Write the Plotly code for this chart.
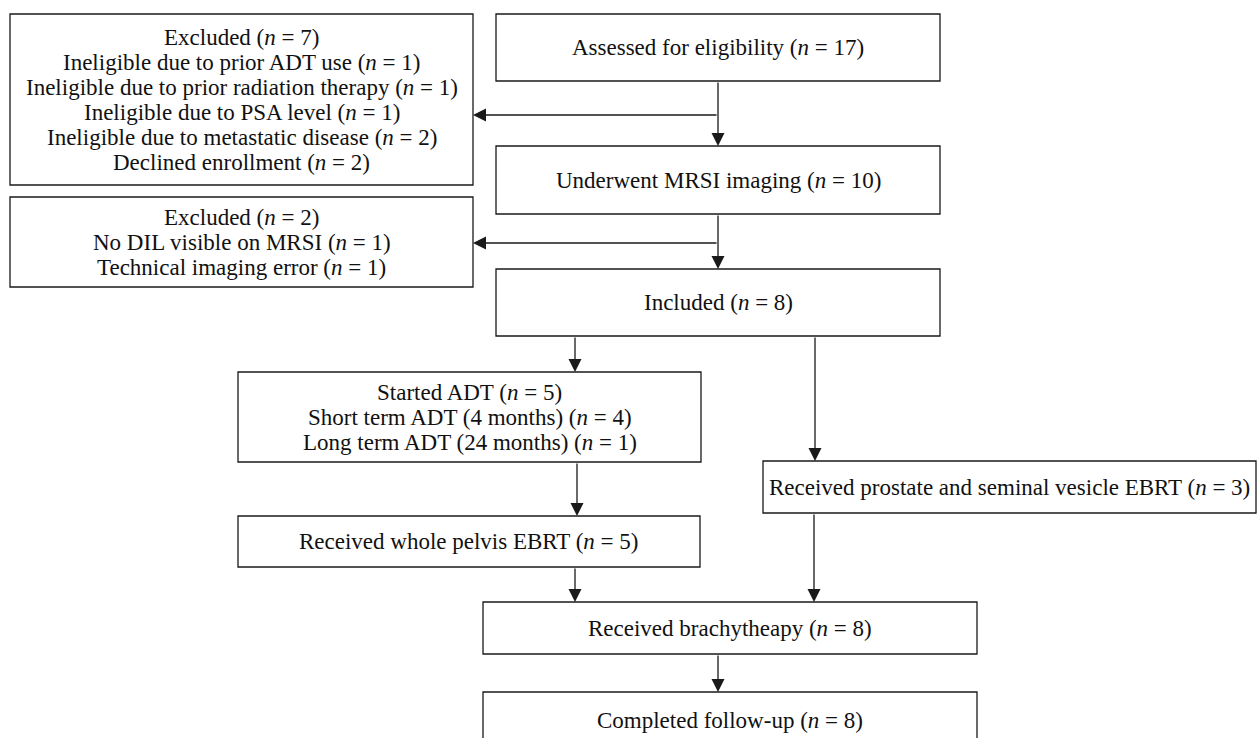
import plotly.graph_objects as go

# ---- data (labels and counts) ----
step_labels = [
    "Assessed for eligibility",
    "Underwent MRSI imaging",
    "Included",
    "Started ADT",
    "Received whole pelvis EBRT",
    "Received prostate and seminal vesicle EBRT",
    "Received brachytheapy",
    "Completed follow-up",
]
step_counts = [17, 10, 8, 5, 5, 3, 8, 8]

adt_sub_labels = ["Short term ADT (4 months)", "Long term ADT (24 months)"]
adt_sub_counts = [4, 1]

excl1_title_count = 7
excl1_labels = [
    "Ineligible due to prior ADT use",
    "Ineligible due to prior radiation therapy",
    "Ineligible due to PSA level",
    "Ineligible due to metastatic disease",
    "Declined enrollment",
]
excl1_counts = [1, 1, 1, 2, 2]

excl2_title_count = 2
excl2_labels = ["No DIL visible on MRSI", "Technical imaging error"]
excl2_counts = [1, 1]

# ---- layout (pixel coordinates, y downward) ----
W, H = 1259, 738
FONT = "Liberation Serif"
FS = 23
LINE_GAP = 25
LINE = "#1a1a1a"
TXT = "#111111"


def nlab(label, n):
    return f"{label} (<i>n</i> = {n})"


boxes = {
    "assessed": (496, 14, 940, 81),
    "mrsi": (496, 146, 940, 214),
    "included": (496, 269, 940, 336),
    "adt": (238, 372, 701, 462),
    "pelvis": (238, 516, 700, 567),
    "prostate": (763, 461, 1256, 513),
    "brachy": (483, 602, 977, 654),
    "followup": (483, 692, 977, 748),
    "excl1": (10, 14, 473, 185),
    "excl2": (10, 197, 473, 287),
}

texts = {
    "assessed": [nlab(step_labels[0], step_counts[0])],
    "mrsi": [nlab(step_labels[1], step_counts[1])],
    "included": [nlab(step_labels[2], step_counts[2])],
    "adt": [nlab(step_labels[3], step_counts[3])]
           + [nlab(l, c) for l, c in zip(adt_sub_labels, adt_sub_counts)],
    "pelvis": [nlab(step_labels[4], step_counts[4])],
    "prostate": [nlab(step_labels[5], step_counts[5])],
    "brachy": [nlab(step_labels[6], step_counts[6])],
    "followup": [nlab(step_labels[7], step_counts[7])],
    "excl1": [nlab("Excluded", excl1_title_count)]
             + [nlab(l, c) for l, c in zip(excl1_labels, excl1_counts)],
    "excl2": [nlab("Excluded", excl2_title_count)]
             + [nlab(l, c) for l, c in zip(excl2_labels, excl2_counts)],
}

text_y = {"followup": 720}

fig = go.Figure()
shapes = []
annotations = []

for key, (x0, y0, x1, y1) in boxes.items():
    shapes.append(dict(type="rect", xref="x", yref="y", x0=x0, y0=y0, x1=x1, y1=y1,
                       line=dict(color=LINE, width=1.3), fillcolor="white", layer="below"))
    lines = texts[key]
    cy = text_y.get(key, (y0 + y1) / 2)
    n = len(lines)
    for i, t in enumerate(lines):
        annotations.append(dict(x=(x0 + x1) / 2, y=cy + (i - (n - 1) / 2) * LINE_GAP,
                                xref="x", yref="y", text=t, showarrow=False,
                                align="center", xanchor="center", yanchor="middle",
                                font=dict(family=FONT, size=FS, color=TXT)))

# arrows: (tail_x, tail_y, head_x, head_y)
arrows = [
    (718, 81, 718, 146),
    (718, 115, 473, 115),
    (718, 214, 718, 269),
    (718, 243, 473, 243),
    (575, 336, 575, 372),
    (815, 336, 815, 461),
    (577, 462, 577, 516),
    (575, 567, 575, 602),
    (814, 513, 814, 602),
    (718, 654, 718, 692),
]
for tx, ty, hx, hy in arrows:
    annotations.append(dict(x=hx, y=hy, ax=tx, ay=ty, xref="x", yref="y",
                            axref="x", ayref="y", text="", showarrow=True,
                            arrowhead=2, arrowsize=2.0, arrowwidth=1.3,
                            arrowcolor=LINE, standoff=0, startstandoff=0))

fig.update_layout(
    width=W, height=H,
    margin=dict(l=0, r=0, t=0, b=0),
    paper_bgcolor="white", plot_bgcolor="white",
    xaxis=dict(range=[0, W], visible=False, fixedrange=True),
    yaxis=dict(range=[H, 0], visible=False, fixedrange=True),
    shapes=shapes, annotations=annotations, showlegend=False,
)

fig.write_html("out.html", config={"displayModeBar": False},
               post_script="document.body.style.margin='0';document.body.style.overflow='hidden';")
